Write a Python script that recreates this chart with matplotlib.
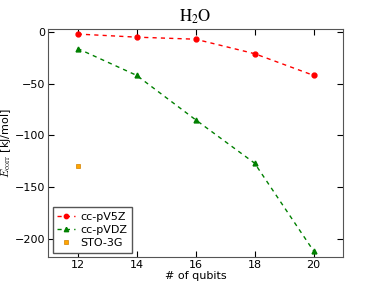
import matplotlib
matplotlib.use('Agg')
import matplotlib.pyplot as plt

qubits = [12, 14, 16, 18, 20]
e_v5z = [-2, -5, -7, -21, -42]
e_vdz = [-16, -42, -85, -127, -212]
sto_qubits = [12]
e_sto = [-130]

plt.rcParams['font.size'] = 8
plt.rcParams['xtick.direction'] = 'in'
plt.rcParams['ytick.direction'] = 'in'

fig, ax = plt.subplots(figsize=(3.82, 2.86), dpi=100)
fig.subplots_adjust(left=0.126, right=0.898, top=0.899, bottom=0.101)

ax.plot(qubits, e_v5z, '--', color='red', marker='o', markersize=3.5, lw=1,
        dashes=(3, 3), label='cc-pV5Z')
ax.plot(qubits, e_vdz, '--', color='green', marker='^', markersize=3.5, lw=1,
        dashes=(3, 3), label='cc-pVDZ')
ax.plot(sto_qubits, e_sto, 's', color='orange', markersize=3.5, markeredgecolor='#d08000',
        markeredgewidth=0.5, label='STO-3G')

ax.set_xlim(11, 21)
ax.set_ylim(-218, 3)
ax.set_xticks([12, 14, 16, 18, 20])
ax.set_yticks([0, -50, -100, -150, -200])
ax.tick_params(top=True, right=True, length=4, pad=2)
for s in ax.spines.values():
    s.set_color('#555555')

ax.set_xlabel('# of qubits', labelpad=1)
ax.set_ylabel(r'$E_{\rm corr}$ [kJ/mol]', labelpad=1, math_fontfamily='cm')
ax.set_title(r'$\mathrm{H_2O}$', fontsize=12, pad=5, math_fontfamily='stix')

leg = ax.legend(loc='lower left', fancybox=False, fontsize=8, framealpha=1,
                borderaxespad=0.4, handlelength=1.6, handletextpad=0.5,
                labelspacing=0.3, borderpad=0.4, markerscale=0.9)
leg.get_frame().set_edgecolor('#555555')

fig.savefig('out.png', dpi=100)
